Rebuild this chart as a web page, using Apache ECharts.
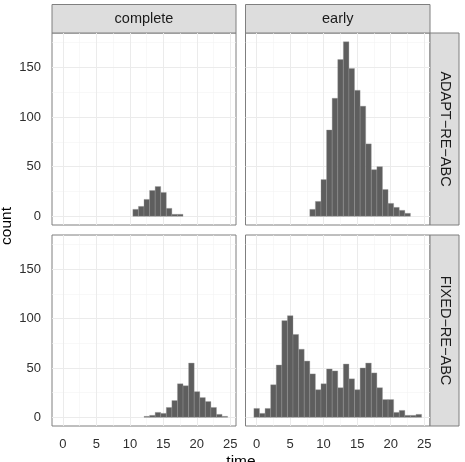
<!DOCTYPE html>
<html>
<head>
<meta charset="utf-8">
<script src="https://cdn.jsdelivr.net/npm/echarts@6/dist/echarts.min.js"></script>
<style>
  html, body { margin: 0; padding: 0; background: #fff; }
  #chart { width: 465px; height: 462px; }
</style>
</head>
<body>
<div id="chart"></div>
<script>
// histogram bins: 30 bins, left edge of the first one and width
const binStart = -0.39
const binWidth = 25 / 30

const xTicks = [0, 5, 10, 15, 20, 25]
const xMinor = [2.5, 7.5, 12.5, 17.5, 22.5]
const yTicks = [0, 50, 100, 150]
const yMinor = [25, 75, 125, 175]

const columns = ['complete', 'early']
const rows = ['ADAPT−RE−ABC', 'FIXED−RE−ABC']

// counts per bin
const adaptComplete = [0,0,0,0,0,0,0,0,0,0,0,0,0,7,10,17,26,30,24,8,2,2,0,0,0,0,0,0,0,0]
const adaptEarly = [0,0,0,0,0,0,0,0,0,0,7,15,37,87,119,158,176,149,127,111,73,47,50,27,13,9,6,3,0,0]
const fixedComplete = [0,0,0,0,0,0,0,0,0,0,0,0,0,0,0,1,2,5,4,10,17,34,32,55,26,20,16,10,3,1]
const fixedEarly = [9,4,9,33,53,98,103,84,69,57,44,28,34,49,47,30,54,39,28,50,55,45,30,18,18,5,7,2,2,3]

const FONT = 'Liberation Sans, Arial, sans-serif'
const xMin = -1.64, xMax = 25.86
const yMin = -8.8, yMax = 184.8

const panels = [
  { grid: { left: 52, top: 33, width: 184, height: 192 }, counts: adaptComplete, showY: true, showX: false },
  { grid: { left: 245.5, top: 33, width: 184.5, height: 192 }, counts: adaptEarly, showY: false, showX: false },
  { grid: { left: 52, top: 235, width: 184, height: 191 }, counts: fixedComplete, showY: true, showX: true },
  { grid: { left: 245.5, top: 235, width: 184.5, height: 191 }, counts: fixedEarly, showY: false, showX: true }
]

const gridLines = () => {
  const major = { color: '#ebebeb', width: 1, type: 'solid' }
  const minor = { color: '#f4f4f4', width: 0.6, type: 'solid' }
  return [
    ...yMinor.map(v => ({ yAxis: v, lineStyle: minor })),
    ...xMinor.map(v => ({ xAxis: v, lineStyle: minor })),
    ...yTicks.map(v => ({ yAxis: v, lineStyle: major })),
    ...xTicks.map(v => ({ xAxis: v, lineStyle: major }))
  ]
}

const renderBar = (params, api) => {
  const center = api.value(0)
  const n = api.value(1)
  if (!n) return
  const lo = api.coord([center - binWidth / 2, 0])
  const hi = api.coord([center + binWidth / 2, n])
  return {
    type: 'rect',
    shape: { x: lo[0], y: hi[1], width: hi[0] - lo[0], height: lo[1] - hi[1] },
    style: { fill: '#5e5e5e', stroke: '#9a9a9a', lineWidth: 0.35 }
  }
}

const option = {
  animation: false,
  backgroundColor: '#fff',
  grid: panels.map(p => ({ ...p.grid, show: true, backgroundColor: '#fff', borderColor: '#7f7f7f', borderWidth: 1 })),
  xAxis: panels.map((p, i) => ({
    type: 'value', gridIndex: i, min: xMin, max: xMax,
    axisLine: { show: false },
    splitLine: { show: false },
    axisTick: { show: p.showX, customValues: xTicks, length: 5, lineStyle: { color: '#333' } },
    axisLabel: { show: p.showX, customValues: xTicks, color: '#2e2e2e', fontSize: 13, fontFamily: FONT, margin: 12 }
  })),
  yAxis: panels.map((p, i) => ({
    type: 'value', gridIndex: i, min: yMin, max: yMax,
    axisLine: { show: false },
    splitLine: { show: false },
    axisTick: { show: p.showY, customValues: yTicks, length: 5, lineStyle: { color: '#333' } },
    axisLabel: { show: p.showY, customValues: yTicks, color: '#2e2e2e', fontSize: 13, fontFamily: FONT, margin: 11 }
  })),
  series: panels.flatMap((p, i) => [
    {
      type: 'scatter', xAxisIndex: i, yAxisIndex: i, data: [], silent: true, z: 1,
      markLine: { silent: true, symbol: 'none', z: 1, label: { show: false }, data: gridLines() }
    },
    {
      type: 'custom', xAxisIndex: i, yAxisIndex: i, z: 3, silent: true,
      renderItem: renderBar,
      data: p.counts.map((c, k) => [binStart + (k + 0.5) * binWidth, c])
    }
  ]),
  graphic: [
    // column strips
    ...columns.flatMap((label, i) => {
      const g = panels[i].grid
      return [
        { type: 'rect', shape: { x: g.left, y: 4.5, width: g.width, height: 28.5 }, style: { fill: '#dddddd', stroke: '#7f7f7f', lineWidth: 1 } },
        { type: 'text', x: g.left + g.width / 2, y: 19, style: { text: label, fill: '#1a1a1a', font: `14.5px ${FONT}`, align: 'center', verticalAlign: 'middle' } }
      ]
    }),
    // row strips
    ...rows.flatMap((label, i) => {
      const g = panels[i * 2 + 1].grid
      return [
        { type: 'rect', shape: { x: 430, y: g.top, width: 29, height: g.height }, style: { fill: '#dddddd', stroke: '#7f7f7f', lineWidth: 1 } },
        { type: 'text', x: 444.5, y: g.top + g.height / 2, rotation: -Math.PI / 2, style: { text: label, fill: '#1a1a1a', font: `14.5px ${FONT}`, align: 'center', verticalAlign: 'middle' } }
      ]
    }),
    { type: 'text', x: 7, y: 226, rotation: Math.PI / 2, style: { text: 'count', fill: '#000', font: `15.5px ${FONT}`, align: 'center', verticalAlign: 'middle' } },
    { type: 'text', x: 241, y: 462, style: { text: 'time', fill: '#000', font: `15.5px ${FONT}`, align: 'center', verticalAlign: 'middle' } }
  ]
}

const chart = echarts.init(document.getElementById('chart'), null, { renderer: 'canvas' })
chart.setOption(option)
window.addEventListener('resize', () => chart.resize())
</script>
</body>
</html>
